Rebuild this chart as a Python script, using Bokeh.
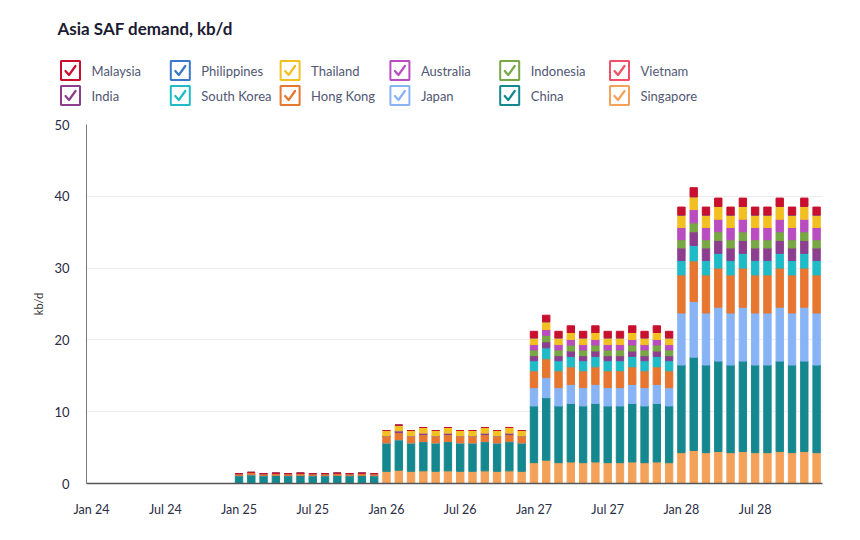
from bokeh.plotting import figure
from bokeh.models import Range1d, FixedTicker, ColumnDataSource
from bokeh.layouts import column
from bokeh.embed import file_html
from bokeh.resources import INLINE
from bokeh.core.properties import value

# ---------------- data ----------------
month_names = ["Jan", "Feb", "Mar", "Apr", "May", "Jun", "Jul", "Aug", "Sep", "Oct", "Nov", "Dec"]
years = ["24", "25", "26", "27", "28"]
months = [f"{m} {y}" for y in years for m in month_names]

tick_labels = ["Jan 24", "Jul 24", "Jan 25", "Jul 25", "Jan 26", "Jul 26",
               "Jan 27", "Jul 27", "Jan 28", "Jul 28"]

title = "Asia SAF demand, kb/d"

# legend order (row 1 then row 2)
legend_row1 = ["Malaysia", "Philippines", "Thailand", "Australia", "Indonesia", "Vietnam"]
legend_row2 = ["India", "South Korea", "Hong Kong", "Japan", "China", "Singapore"]

colors = {
    "Malaysia": "#C8102E",
    "Philippines": "#3A78C9",
    "Thailand": "#F2C021",
    "Australia": "#B84CC0",
    "Indonesia": "#77A843",
    "Vietnam": "#F0506A",
    "India": "#8C3F8E",
    "South Korea": "#1FBBC7",
    "Hong Kong": "#E67630",
    "Japan": "#88B4F6",
    "China": "#15888F",
    "Singapore": "#F4A259",
}

Z12 = [0, 0, 0, 0, 0, 0, 0, 0, 0, 0, 0, 0]

Singapore = (Z12 + Z12 +
             [1.70, 1.85, 1.70, 1.76, 1.70, 1.76, 1.70, 1.70, 1.76, 1.70, 1.76, 1.70] +
             [2.90, 3.25, 2.90, 3.00, 2.90, 3.00, 2.90, 2.90, 3.00, 2.90, 3.00, 2.90] +
             [4.30, 4.60, 4.30, 4.45, 4.30, 4.45, 4.30, 4.30, 4.45, 4.30, 4.45, 4.30])
China = (Z12 +
         [1.10, 1.22, 1.10, 1.14, 1.10, 1.14, 1.10, 1.10, 1.14, 1.10, 1.14, 1.10] +
         [3.95, 4.25, 3.95, 4.08, 3.95, 4.08, 3.95, 3.95, 4.08, 3.95, 4.08, 3.95] +
         [7.90, 8.70, 7.90, 8.15, 7.90, 8.15, 7.90, 7.90, 8.15, 7.90, 8.15, 7.90] +
         [12.2, 13.0, 12.2, 12.6, 12.2, 12.6, 12.2, 12.2, 12.6, 12.2, 12.6, 12.2])
Japan = (Z12 + Z12 + Z12 +
         [2.55, 2.80, 2.55, 2.65, 2.55, 2.65, 2.55, 2.55, 2.65, 2.55, 2.65, 2.55] +
         [7.25, 7.75, 7.25, 7.50, 7.25, 7.50, 7.25, 7.25, 7.50, 7.25, 7.50, 7.25])
HongKong = (Z12 +
            [0.28, 0.32, 0.28, 0.29, 0.28, 0.29, 0.28, 0.28, 0.29, 0.28, 0.29, 0.28] +
            [0.95, 1.00, 0.95, 0.98, 0.95, 0.98, 0.95, 0.95, 0.98, 0.95, 0.98, 0.95] +
            [2.35, 2.62, 2.35, 2.45, 2.35, 2.45, 2.35, 2.35, 2.45, 2.35, 2.45, 2.35] +
            [5.30, 5.65, 5.30, 5.45, 5.30, 5.45, 5.30, 5.30, 5.45, 5.30, 5.45, 5.30])
SouthKorea = (Z12 + Z12 + Z12 +
              [1.40, 1.52, 1.40, 1.45, 1.40, 1.45, 1.40, 1.40, 1.45, 1.40, 1.45, 1.40] +
              [2.00, 2.15, 2.00, 2.05, 2.00, 2.05, 2.00, 2.00, 2.05, 2.00, 2.05, 2.00])
India = (Z12 + Z12 +
         [0.03, 0.25, 0.03, 0.20, 0.03, 0.20, 0.03, 0.03, 0.20, 0.03, 0.20, 0.03] +
         [0.70, 0.85, 0.70, 0.75, 0.70, 0.75, 0.70, 0.70, 0.75, 0.70, 0.75, 0.70] +
         [1.75, 1.90, 1.75, 1.80, 1.75, 1.80, 1.75, 1.75, 1.80, 1.75, 1.80, 1.75])
Indonesia = (Z12 + Z12 + Z12 +
             [0.80, 0.90, 0.80, 0.83, 0.80, 0.83, 0.80, 0.80, 0.83, 0.80, 0.83, 0.80] +
             [1.15, 1.25, 1.15, 1.20, 1.15, 1.20, 1.15, 1.15, 1.20, 1.15, 1.20, 1.15])
Australia = (Z12 + Z12 + Z12 +
             [0.75, 0.80, 0.75, 0.77, 0.75, 0.77, 0.75, 0.75, 0.77, 0.75, 0.77, 0.75] +
             [1.70, 1.85, 1.70, 1.75, 1.70, 1.75, 1.70, 1.70, 1.75, 1.70, 1.75, 1.70])
Thailand = (Z12 + Z12 +
            [0.75, 0.78, 0.75, 0.78, 0.75, 0.78, 0.75, 0.75, 0.78, 0.75, 0.78, 0.75] +
            [0.95, 1.10, 0.95, 0.98, 0.95, 0.98, 0.95, 0.95, 0.98, 0.95, 0.98, 0.95] +
            [1.75, 1.80, 1.75, 1.80, 1.75, 1.80, 1.75, 1.75, 1.80, 1.75, 1.80, 1.75])
Vietnam = Z12 + Z12 + Z12 + Z12 + Z12
Philippines = Z12 + Z12 + Z12 + Z12 + Z12
Malaysia = (Z12 + Z12 + Z12 +
            [0.90, 0.90, 0.90, 0.93, 0.90, 0.93, 0.90, 0.90, 0.93, 0.90, 0.93, 0.90] +
            [1.10, 1.25, 1.10, 1.15, 1.10, 1.15, 1.10, 1.10, 1.15, 1.10, 1.15, 1.10])

series = {
    "Singapore": Singapore, "China": China, "Japan": Japan, "Hong Kong": HongKong,
    "South Korea": SouthKorea, "India": India, "Indonesia": Indonesia,
    "Australia": Australia, "Thailand": Thailand, "Vietnam": Vietnam,
    "Philippines": Philippines, "Malaysia": Malaysia,
}
stack_order = list(series.keys())  # bottom -> top

# ---------------- header (title + legend) ----------------
W = 860
HH = 116
header = figure(width=W, height=HH, x_range=Range1d(0, W), y_range=Range1d(HH, 0),
                toolbar_location=None, output_backend="svg", min_border=0)
header.axis.visible = False
header.grid.visible = False
header.outline_line_color = None
try:
    header.frame_align = False
except Exception:
    pass

header.text(x=[57], y=[28], text=[title], text_font=value("Lato"),
            text_font_size="17px", text_font_style="bold", text_color="#1b1c33",
            text_baseline="middle", text_align="left")

lx, ly, lc, cxs, cys = [], [], [], [], []
for r, row in enumerate([legend_row1, legend_row2]):
    for c, name in enumerate(row):
        cx = 70 + c * 109.8
        cy = 70 + r * 25
        cxs.append(cx)
        cys.append(cy)
        lc.append(colors[name])
        lx.append([cx - 5, cx - 1.5, cx + 5])
        ly.append([cy + 0.5, cy + 4.5, cy - 4.5])
names = legend_row1 + legend_row2
header.rect(x=cxs, y=cys, width=19, height=19, fill_color="white",
            line_color=lc, line_width=2)
header.multi_line(xs=lx, ys=ly, line_color=lc, line_width=2.2,
                  line_join="round", line_cap="round")
header.text(x=[v + 21 for v in cxs], y=cys, text=names, text_font=value("Lato"),
            text_font_size="13px", text_color="#515774", text_baseline="middle",
            text_align="left")

# ---------------- main chart ----------------
data = {"x": list(range(len(months))), "month": months}
data.update(series)
source = ColumnDataSource(data)

p = figure(width=W, height=416, x_range=Range1d(-0.41, 59.48), y_range=Range1d(0, 50),
           toolbar_location=None, output_backend="svg",
           min_border_left=86, min_border_right=38, min_border_top=8, min_border_bottom=49)
try:
    p.frame_align = False
except Exception:
    pass
p.vbar_stack(stack_order, x="x", width=0.6, color=[colors[s] for s in stack_order],
             source=source)

p.outline_line_color = None
p.xgrid.visible = False
p.ygrid.grid_line_color = "#ececec"
p.ygrid.grid_line_width = 1

p.yaxis.ticker = FixedTicker(ticks=[0, 10, 20, 30, 40, 50])
p.yaxis.axis_label = "kb/d"
p.yaxis.axis_label_text_font = "Lato"
p.yaxis.axis_label_text_font_size = "11px"
p.yaxis.axis_label_text_font_style = "normal"
p.yaxis.axis_label_text_color = "#333333"
p.yaxis.axis_label_standoff = 6
p.yaxis.major_label_text_font = "Lato"
p.yaxis.major_label_text_font_size = "13px"
p.yaxis.major_label_text_color = "#2a2d45"
p.yaxis.major_label_standoff = 17
p.yaxis.major_tick_out = 0
p.yaxis.major_tick_in = 0
p.yaxis.minor_tick_out = 0
p.yaxis.minor_tick_in = 0
p.yaxis.major_tick_line_color = None
p.yaxis.minor_tick_line_color = None
p.yaxis.axis_line_color = "#7a7a7a"
p.yaxis.axis_line_width = 1

tick_pos = [months.index(t) for t in tick_labels]
p.xaxis.ticker = FixedTicker(ticks=tick_pos)
p.xaxis.major_label_overrides = {pos: lab for pos, lab in zip(tick_pos, tick_labels)}
p.xaxis.major_label_text_font = "Lato"
p.xaxis.major_label_text_font_size = "12.5px"
p.xaxis.major_label_text_color = "#2a2d45"
p.xaxis.major_label_standoff = 18
p.xaxis.major_tick_out = 0
p.xaxis.major_tick_in = 0
p.xaxis.minor_tick_out = 0
p.xaxis.minor_tick_in = 0
p.xaxis.major_tick_line_color = None
p.xaxis.minor_tick_line_color = None
p.xaxis.axis_line_color = "#555555"
p.xaxis.axis_line_width = 1.5

layout = column(header, p, spacing=0)
open("out.html", "w").write(file_html(layout, INLINE))
